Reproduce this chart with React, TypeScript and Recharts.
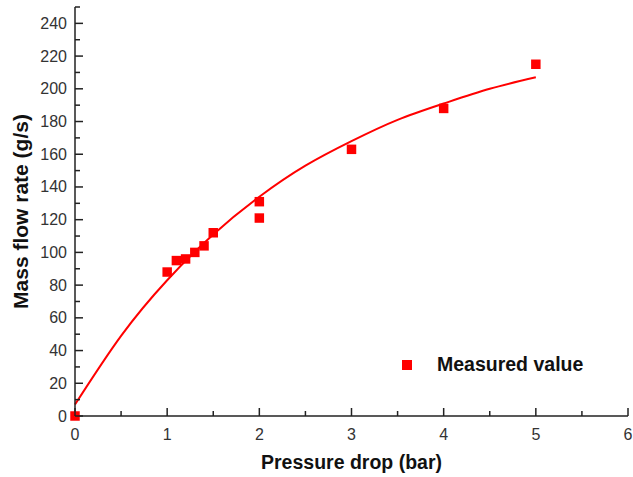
import React from 'react';
import { ComposedChart, Line, Scatter, XAxis, YAxis, ZAxis, Legend } from 'recharts';

// measured points
const measuredP = [0, 1, 1.1, 1.2, 1.3, 1.4, 1.5, 2, 2, 3, 4, 5];
const measuredQ = [0, 88, 95, 96, 100, 104, 112, 131, 121, 163, 188, 215];

// fitted curve
const fitP = [0, 0.5, 1, 1.5, 2, 2.5, 3, 3.5, 4, 4.5, 5];
const fitQ = [7, 49, 83, 111, 134, 153, 168, 181, 191, 200, 207];

const xTicks = [0, 0.5, 1, 1.5, 2, 2.5, 3, 3.5, 4, 4.5, 5, 5.5, 6];
const yTicks = [0, 10, 20, 30, 40, 50, 60, 70, 80, 90, 100, 110, 120, 130, 140, 150, 160, 170, 180, 190, 200, 210, 220, 230, 240, 250];

const measured = measuredP.map((x, i) => ({ x, y: measuredQ[i] }));
const fit = fitP.map((x, i) => ({ x, y: fitQ[i] }));

const FONT = 'Arial, "Liberation Sans", sans-serif';
const AXIS = '#222';
const RED = '#ff0000';

const isMajorX = (v: number) => Number.isInteger(v);
const isMajorY = (v: number) => v % 20 === 0;

const BottomTick = (p: any) => {
  const v = p.payload.value;
  const major = isMajorX(v);
  return (
    <g>
      <line x1={p.x} x2={p.x} y1={p.y} y2={p.y - (major ? 8 : 5)} stroke={AXIS} strokeWidth={1.5} />
      {major && (
        <text x={p.x} y={p.y + 24} textAnchor="middle" fontSize={16} fontFamily={FONT} fill="#333">
          {v}
        </text>
      )}
    </g>
  );
};

const TopTick = (p: any) => {
  const major = isMajorX(p.payload.value);
  return <line x1={p.x} x2={p.x} y1={p.y} y2={p.y + (major ? 8 : 5)} stroke={AXIS} strokeWidth={1.5} />;
};

const LeftTick = (p: any) => {
  const v = p.payload.value;
  const major = isMajorY(v);
  return (
    <g>
      <line x1={p.x} x2={p.x + (major ? 8 : 5)} y1={p.y} y2={p.y} stroke={AXIS} strokeWidth={1.5} />
      {major && v <= 240 && (
        <text x={p.x - 8} y={p.y + 5.5} textAnchor="end" fontSize={16} fontFamily={FONT} fill="#333">
          {v}
        </text>
      )}
    </g>
  );
};

const RightTick = (p: any) => {
  const major = isMajorY(p.payload.value);
  return <line x1={p.x} x2={p.x - (major ? 8 : 5)} y1={p.y} y2={p.y} stroke={AXIS} strokeWidth={1.5} />;
};

const LegendBox = () => (
  <div style={{ display: 'flex', alignItems: 'center', fontFamily: FONT }}>
    <span style={{ width: 10, height: 10, background: RED, marginRight: 25 }} />
    <span style={{ fontSize: 19.5, fontWeight: 'bold', color: '#111' }}>Measured value</span>
  </div>
);

export default function App() {
  return (
    <div style={{ position: 'absolute', left: 0, top: 0, background: '#fff' }}>
      <ComposedChart width={633} height={477} margin={{ top: 7, right: 5, left: 0, bottom: 0 }}>
        <XAxis
          dataKey="x"
          type="number"
          domain={[0, 6]}
          ticks={xTicks}
          interval={0}
          height={61}
          tickSize={0}
          tickMargin={0}
          tickLine={false}
          axisLine={{ stroke: AXIS, strokeWidth: 1.5 }}
          tick={(p: any) => <BottomTick {...p} />}
          label={{
            value: 'Pressure drop (bar)',
            position: 'center',
            dy: 16,
            style: { fontSize: 19.5, fontWeight: 'bold', fontFamily: FONT, fill: '#111' },
          }}
        />
        <XAxis
          xAxisId="top"
          orientation="top"
          type="number"
          domain={[0, 6]}
          ticks={xTicks}
          interval={0}
          height={0}
          tickSize={0}
          tickMargin={0}
          tickLine={false}
          axisLine={{ stroke: AXIS, strokeWidth: 1.5 }}
          tick={(p: any) => <TopTick {...p} />}
        />
        <YAxis
          dataKey="y"
          type="number"
          domain={[0, 250]}
          ticks={yTicks}
          interval={0}
          width={75}
          tickSize={0}
          tickMargin={0}
          tickLine={false}
          axisLine={{ stroke: AXIS, strokeWidth: 1.5 }}
          tick={(p: any) => <LeftTick {...p} />}
          label={{
            value: 'Mass flow rate (g/s)',
            angle: -90,
            position: 'center',
            dx: -17,
            style: { fontSize: 21, fontWeight: 'bold', fontFamily: FONT, fill: '#111', textAnchor: 'middle' },
          }}
        />
        <YAxis
          yAxisId="right"
          orientation="right"
          type="number"
          domain={[0, 250]}
          ticks={yTicks}
          interval={0}
          width={0}
          tickSize={0}
          tickMargin={0}
          tickLine={false}
          axisLine={{ stroke: AXIS, strokeWidth: 1.5 }}
          tick={(p: any) => <RightTick {...p} />}
        />
        <ZAxis range={[90, 90]} />
        <Line
          data={fit}
          dataKey="y"
          type="natural"
          stroke={RED}
          strokeWidth={2}
          dot={false}
          activeDot={false}
          isAnimationActive={false}
          legendType="none"
        />
        <Scatter data={measured} name="Measured value" fill={RED} shape="square" isAnimationActive={false} />
        <Legend
          layout="horizontal"
          verticalAlign="middle"
          align="center"
          content={() => <LegendBox />}
          wrapperStyle={{ left: 402, top: 353, width: 'auto' }}
        />
      </ComposedChart>
    </div>
  );
}
